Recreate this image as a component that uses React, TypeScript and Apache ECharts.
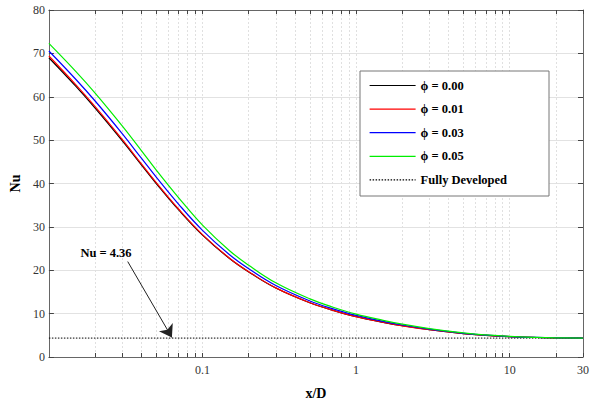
import React, { useEffect, useRef } from "react";
import * as echarts from "echarts";

const xValues = [0.01, 0.015, 0.02, 0.03, 0.04, 0.05, 0.07, 0.1, 0.15, 0.2, 0.3, 0.5, 0.7, 1, 1.5, 2, 3, 5, 7, 10, 15, 20, 30];
const nuPhi000 = [69.0, 62.4, 57.4, 49.9, 44.3, 40.0, 33.9, 28.1, 22.7, 19.6, 15.9, 12.5, 10.8, 9.3, 8.0, 7.2, 6.3, 5.4, 5.0, 4.7, 4.5, 4.42, 4.37];
const nuPhi001 = [69.4, 62.75, 57.72, 50.17, 44.53, 40.2, 34.06, 28.22, 22.78, 19.66, 15.94, 12.52, 10.81, 9.3, 8.0, 7.19, 6.29, 5.39, 4.99, 4.69, 4.49, 4.42, 4.37];
const nuPhi003 = [70.55, 63.98, 59.02, 51.5, 45.84, 41.47, 35.2, 29.2, 23.56, 20.33, 16.47, 12.92, 11.15, 9.58, 8.21, 7.37, 6.42, 5.46, 5.04, 4.72, 4.51, 4.43, 4.37];
const nuPhi005 = [72.3, 65.8, 60.85, 53.3, 47.6, 43.1, 36.7, 30.4, 24.5, 21.15, 17.1, 13.4, 11.54, 9.89, 8.46, 7.57, 6.55, 5.54, 5.08, 4.74, 4.52, 4.43, 4.37];
const fullyDevelopedNu = 4.36;
const fullyDevelopedX = [0.01, 30];
const seriesNames = ["ϕ = 0.00", "ϕ = 0.01", "ϕ = 0.03", "ϕ = 0.05", "Fully Developed"];
const seriesColors = ["#000000", "#ff0000", "#0000ff", "#00ee00", "#000000"];
const xTickValues = [0.02, 0.03, 0.04, 0.05, 0.06, 0.07, 0.08, 0.09, 0.1, 0.2, 0.3, 0.4, 0.5, 0.6, 0.7, 0.8, 0.9, 1, 2, 3, 4, 5, 6, 7, 8, 9, 10, 20, 30];
const xLabelValues = [0.1, 1, 10, 30];
const arrowStart = [0.0326, 22.0];
const arrowEnd = [0.0632, 4.5];
const annotationText = "Nu = 4.36";

const serif = "'Liberation Serif', 'DejaVu Serif', serif";

export default function App() {
  const ref = useRef<HTMLDivElement>(null);
  useEffect(() => {
    if (!ref.current) return;
    const chart = echarts.init(ref.current, null, { renderer: "svg" });
    const curves = [nuPhi000, nuPhi001, nuPhi003, nuPhi005];
    const lineSeries: any[] = curves.map((vals, i) => ({
      name: seriesNames[i],
      type: "line",
      xAxisIndex: 0,
      yAxisIndex: 0,
      data: xValues.map((x, j) => [x, vals[j]]),
      smooth: 0.4,
      symbol: "none",
      lineStyle: { color: seriesColors[i], width: 1.2 },
      itemStyle: { color: seriesColors[i] },
      z: 5,
    }));
    lineSeries.push({
      name: seriesNames[4],
      type: "line",
      xAxisIndex: 0,
      yAxisIndex: 0,
      data: fullyDevelopedX.map((x) => [x, fullyDevelopedNu]),
      symbol: "none",
      lineStyle: { color: seriesColors[4], width: 1, type: [1.5, 1.5] },
      itemStyle: { color: seriesColors[4] },
      z: 4,
      markLine: {
        silent: true,
        symbol: ["none", "arrow"],
        symbolSize: 12,
        label: { show: false },
        lineStyle: { color: "#222", width: 1, type: "solid" },
        itemStyle: { color: "#222" },
        data: [[{ coord: arrowStart }, { coord: arrowEnd }]],
      },
    });

    const axisLineStyle = { color: "#666", width: 1 };
    const commonX = {
      type: "log",
      logBase: 10,
      min: 0.01,
      max: 30,
      axisLine: { show: true, onZero: false, lineStyle: axisLineStyle },
      axisTick: { show: true, inside: true, length: 4, customValues: xTickValues, lineStyle: { color: "#444" } },
    };
    const commonY = {
      type: "value",
      min: 0,
      max: 80,
      interval: 10,
      axisLine: { show: true, onZero: false, lineStyle: axisLineStyle },
      axisTick: { show: true, inside: true, length: 5, lineStyle: { color: "#444" } },
    };

    chart.setOption({
      animation: false,
      backgroundColor: "#ffffff",
      grid: { left: 37, right: 5, top: 10, bottom: 41, containLabel: false },
      legend: {
        orient: "vertical",
        left: 369,
        top: 79,
        padding: 0,
        itemWidth: 46,
        itemHeight: 14,
        itemGap: 10.6,
        z: 10,
        itemStyle: { color: "transparent", borderColor: "transparent", borderWidth: 0, opacity: 0 },
        lineStyle: { width: 1.2 },
        textStyle: { fontFamily: serif, fontWeight: "bold", fontSize: 12.5, color: "#000" },
        data: seriesNames,
      },
      graphic: [
        {
          type: "rect",
          shape: { x: 360, y: 71, width: 189, height: 125 },
          style: { fill: "#ffffff", stroke: "#777", lineWidth: 1 },
          z: 8,
          silent: true,
        },
        {
          type: "text",
          x: 106,
          y: 253,
          style: {
            text: annotationText,
            fontFamily: serif,
            fontWeight: "bold",
            fontSize: 12.5,
            fill: "#000",
            align: "center",
            verticalAlign: "middle",
          },
          z: 10,
        },
      ],
      xAxis: [
        {
          ...commonX,
          position: "bottom",
          name: "x/D",
          nameLocation: "middle",
          nameGap: 29,
          nameTextStyle: { fontFamily: serif, fontWeight: "bold", fontSize: 14, color: "#000" },
          axisLabel: {
            show: true,
            customValues: xLabelValues,
            margin: 7,
            fontFamily: serif,
            fontSize: 12,
            color: "#333",
            formatter: (v: number) => String(v),
          },
          splitLine: { show: true, lineStyle: { color: "#e0e0e0", width: 1, type: [2, 2] } },
        },
        {
          ...commonX,
          position: "top",
          axisLabel: { show: false },
          splitLine: { show: false },
        },
      ],
      yAxis: [
        {
          ...commonY,
          position: "left",
          name: "Nu",
          nameLocation: "middle",
          nameGap: 24,
          nameRotate: 90,
          nameTextStyle: { fontFamily: serif, fontWeight: "bold", fontSize: 14, color: "#000" },
          axisLabel: { show: true, margin: 4, fontFamily: serif, fontSize: 12, color: "#333" },
          splitLine: { show: true, lineStyle: { color: "#e2e2e2", width: 1 } },
        },
        {
          ...commonY,
          position: "right",
          axisLabel: { show: false },
          splitLine: { show: false },
        },
      ],
      series: lineSeries,
    });
    return () => chart.dispose();
  }, []);
  return <div ref={ref} style={{ position: "fixed", left: 0, top: 0, width: 592, height: 405 }} />;
}
